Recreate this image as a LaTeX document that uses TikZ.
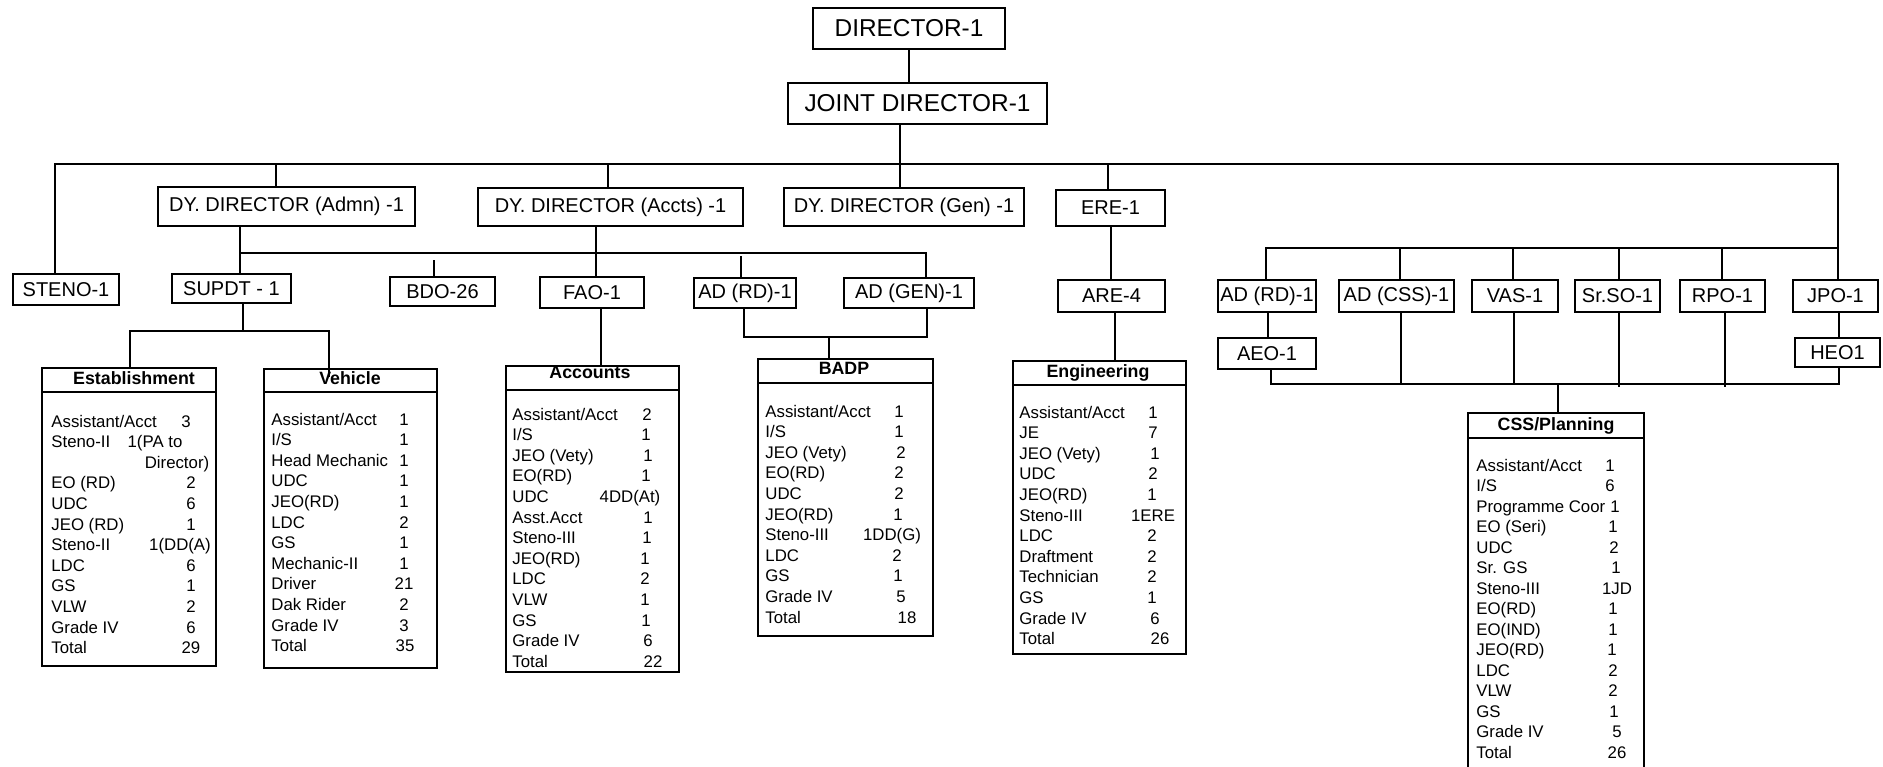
\documentclass[tikz,border=0pt]{standalone}
\usepackage{fontspec}
\setmainfont{Liberation Sans}
\tikzset{
  obx/.style={draw, line width=1pt, rectangle, inner sep=0pt, font=\fontsize{10}{12}\selectfont},
  bigbx/.style={obx, font=\fontsize{12.2}{14}\selectfont},
  tbx/.style={draw, line width=1pt, rectangle, inner sep=0pt},
  ttl/.style={inner sep=0pt, font=\fontsize{8.9}{10}\selectfont\bfseries},
  tt/.style={inner sep=0pt, font=\fontsize{8.4}{10}\selectfont},
  conn/.style={line width=0.85pt},
  hdr/.style={line width=1pt},
}
% box by corners (pixel units): name, x1, y1, x2, y2, text
\newcommand\obox[7][obx]{\node[#1, minimum width={(#5-#3)/2}, minimum height={(#6-#4)/2}] (#2) at ({(#3+#5)/2},{(#4+#6)/2}) {#7};}
% table frame: name, x1, y1, x2, y2, header y, title, title base point
\newcommand\tblbox[9][tbx]{%
  \node[#1, minimum width={(#5-#3)/2}, minimum height={(#6-#4)/2}] (#2) at ({(#3+#5)/2},{(#4+#6)/2}) {};
  \draw[hdr] (#2.west |- 0,#7) -- (#2.east |- 0,#7);
  \node[ttl, anchor=base] (#2-t) at (#9) {#8};
}
% table rows: name, text x, first baseline, step, list
\newcommand\tblrows[5]{%
  \foreach \nm/\vl/\cx [count=\rr] in {#5}{%
    \node[tt, anchor=base west] (#1-n\rr) at (#2,{#3+(\rr-1)*#4}) {\nm};
    \node[tt, anchor=base] (#1-v\rr) at (\cx,{#3+(\rr-1)*#4}) {\vl};
  }}
\begin{document}
\begin{tikzpicture}[x=0.5pt,y=-0.5pt]
\useasboundingbox (0,0) rectangle (1883,766);
\fill[white] (0,0) rectangle (1883,766);
% ---------- boxes ----------
\obox[bigbx]{dir}{813}{8}{1005}{49}{DIRECTOR-1}
\obox[bigbx]{jd}{788}{83}{1047}{124}{JOINT DIRECTOR-1}
\obox{steno}{13}{274}{119}{305}{STENO-1}
\obox{ddadmn}{158}{187}{415}{226}{DY. DIRECTOR (Admn) -1}
\obox{ddaccts}{478}{188}{743}{226}{DY. DIRECTOR (Accts) -1}
\obox{ddgen}{784}{188}{1024}{226}{DY. DIRECTOR (Gen) -1}
\obox{ere}{1056}{190}{1165}{226}{ERE-1}
\obox{supdt}{172}{274}{291}{303}{SUPDT - 1}
\obox{bdo}{390}{277}{495}{306}{BDO-26}
\obox{fao}{540}{277}{644}{308}{FAO-1}
\obox{adrd}{694}{278}{796}{308}{AD (RD)-1}
\obox{adgen}{844}{278}{974}{308}{AD (GEN)-1}
\obox{are}{1058}{280}{1165}{312}{ARE-4}
\obox{adrdb}{1218}{280}{1316}{312}{AD (RD)-1}
\obox{adcss}{1339}{280}{1454}{312}{AD (CSS)-1}
\obox{vas}{1472}{280}{1558}{312}{VAS-1}
\obox{srso}{1575}{280}{1660}{312}{Sr.SO-1}
\obox{rpo}{1680}{280}{1765}{312}{RPO-1}
\obox{jpo}{1793}{280}{1878}{312}{JPO-1}
\obox{aeo}{1218}{338}{1316}{369}{AEO-1}
\obox{heo}{1795}{338}{1880}{367}{HEO1}
% ---------- tables ----------
\tblbox{est}{42}{368}{216}{666}{392}{Establishment}{134,384}
\tblrows{est}{51}{427}{20.6}{{Assistant/Acct}/3/186, {Steno-II}/{1(PA to}/155, {}/{Director)}/177, {EO (RD)}/2/191, UDC/6/191, {JEO (RD)}/1/191, {Steno-II}/{1(DD(A)}/180, LDC/6/191, GS/1/191, VLW/2/191, {Grade IV}/6/191, Total/29/191}
\tblbox{veh}{264}{369}{437}{668}{392}{Vehicle}{350,384}
\tblrows{veh}{271}{425}{20.6}{{Assistant/Acct}/1/404, {I/S}/1/404, {Head Mechanic}/1/404, UDC/1/404, {JEO(RD)}/1/404, LDC/2/404, GS/1/404, {Mechanic-II}/1/404, Driver/21/404, {Dak Rider}/2/404, {Grade IV}/3/404, Total/35/405}
\tblbox{acc}{506}{366}{679}{672}{390}{Accounts}{590,378}
\tblrows{acc}{512}{420}{20.6}{{Assistant/Acct}/2/647, {I/S}/1/646, {JEO (Vety)}/1/648, {EO(RD)}/1/646, UDC/{4DD(At)}/630, {Asst.Acct}/1/648, {Steno-III}/1/647, {JEO(RD)}/1/645, LDC/2/645, VLW/1/645, GS/1/646, {Grade IV}/6/648, Total/22/653}
\tblbox{badp}{758}{359}{933}{636}{383}{BADP}{844,374}
\tblrows{badp}{765}{417}{20.6}{{Assistant/Acct}/1/899, {I/S}/1/899, {JEO (Vety)}/2/901, {EO(RD)}/2/899, UDC/2/899, {JEO(RD)}/1/898, {Steno-III}/{1DD(G)}/892, LDC/2/897, GS/1/898, {Grade IV}/5/901, Total/18/907}
\tblbox{eng}{1013}{361}{1186}{654}{385}{Engineering}{1098,377}
\tblrows{eng}{1019}{418}{20.6}{{Assistant/Acct}/1/1153, JE/7/1153, {JEO (Vety)}/1/1155, UDC/2/1153, {JEO(RD)}/1/1152, {Steno-III}/1ERE/1153, LDC/2/1152, Draftment/2/1152, Technician/2/1152, GS/1/1152, {Grade IV}/6/1155, Total/26/1160}
\tblbox[tbx, draw=none]{css}{1469}{414}{1643}{766}{438}{CSS/Planning}{1556,430}
\draw[hdr] (css.south west) -- (css.north west) -- (css.north east) -- (css.south east);
\tblrows{css}{1476}{471}{20.5}{{Assistant/Acct}/1/1610, {I/S}/6/1610, {Programme Coor}/1/1615, {EO (Seri)}/1/1613, UDC/2/1614, {Sr. GS}/1/1616, {Steno-III}/1JD/1617, {EO(RD)}/1/1613, {EO(IND)}/1/1613, {JEO(RD)}/1/1612, LDC/2/1613, VLW/2/1613, GS/1/1614, {Grade IV}/5/1617, Total/26/1617}
% ---------- connectors ----------
\draw[conn] (dir.south) -- (jd.north -| dir.south);
\coordinate (jx) at (900,0);
\draw[conn] (jd.south -| jx) -- (ddgen.north -| jx);
\coordinate (b1L) at (55,164);
\coordinate (b1R) at (1838,164);
\draw[conn] (steno.north -| b1L) -- (b1L) -- (b1R) -- (jpo.north -| b1R);
\coordinate (b1a) at (276,164);
\coordinate (b1b) at (608,164);
\coordinate (b1c) at (1108,164);
\draw[conn] (b1a) -- (ddadmn.north -| b1a);
\draw[conn] (b1b) -- (ddaccts.north -| b1b);
\draw[conn] (b1c) -- (ere.north -| b1c);
% under DY. DIRECTOR (Admn)
\coordinate (b2L) at (240,253);
\coordinate (b2R) at (926,253);
\draw[conn] (ddadmn.south -| b2L) -- (supdt.north -| b2L);
\draw[conn] (b2L) -- (b2R) -- (adgen.north -| b2R);
\coordinate (bdos) at (434,260);
\draw[conn] (bdos) -- (bdo.north -| bdos);
\coordinate (adrds) at (741,256);
\draw[conn] (adrds) -- (adrd.north -| adrds);
\coordinate (faox) at (596,0);
\draw[conn] (ddaccts.south -| faox) -- (fao.north -| faox);
\coordinate (accx) at (601,0);
\draw[conn] (fao.south -| accx) -- (acc.north -| accx);
% BADP
\coordinate (uL) at (744,337);
\coordinate (uR) at (927,337);
\coordinate (uM) at (829,337);
\draw[conn] (adrd.south -| uL) -- (uL) -- (uR) -- (adgen.south -| uR);
\draw[conn] (uM) -- (badp.north -| uM);
% SUPDT
\coordinate (supx) at (243,0);
\coordinate (b3L) at (130,331);
\coordinate (b3R) at (329,331);
\coordinate (vehin) at (329,377);
\draw[conn] (supdt.south -| supx) -- (supx |- b3L);
\draw[conn] (est.north -| b3L) -- (b3L) -- (b3R) -- (vehin);
% ERE / ARE / Engineering
\coordinate (erex) at (1111,0);
\coordinate (engx) at (1115,0);
\draw[conn] (ere.south -| erex) -- (are.north -| erex);
\draw[conn] (are.south -| engx) -- (eng.north -| engx);
% right group
\coordinate (b4L) at (1266,248);
\coordinate (b4R) at (1838,248);
\draw[conn] (adrdb.north -| b4L) -- (b4L) -- (b4R);
\coordinate (b4a) at (1400,248);
\coordinate (b4b) at (1513,248);
\coordinate (b4c) at (1619,248);
\coordinate (b4d) at (1722,248);
\draw[conn] (b4a) -- (adcss.north -| b4a);
\draw[conn] (b4b) -- (vas.north -| b4b);
\draw[conn] (b4c) -- (srso.north -| b4c);
\draw[conn] (b4d) -- (rpo.north -| b4d);
\coordinate (aeox) at (1268,0);
\coordinate (heox) at (1839,0);
\draw[conn] (adrdb.south -| aeox) -- (aeo.north -| aeox);
\draw[conn] (jpo.south -| heox) -- (heo.north -| heox);
\coordinate (b5L) at (1271,384);
\coordinate (b5R) at (1839,384);
\draw[conn] (aeo.south -| b5L) -- (b5L) -- (b5R) -- (heo.south -| b5R);
\coordinate (b5a) at (1401,384);
\coordinate (b5b) at (1514,384);
\coordinate (b5c) at (1619,387);
\coordinate (b5d) at (1725,387);
\draw[conn] (adcss.south -| b5a) -- (b5a);
\draw[conn] (vas.south -| b5b) -- (b5b);
\draw[conn] (srso.south -| b5c) -- (b5c);
\draw[conn] (rpo.south -| b5d) -- (b5d);
\coordinate (b5m) at (1558,384);
\draw[conn] (b5m) -- (css.north -| b5m);
\end{tikzpicture}
\end{document}
